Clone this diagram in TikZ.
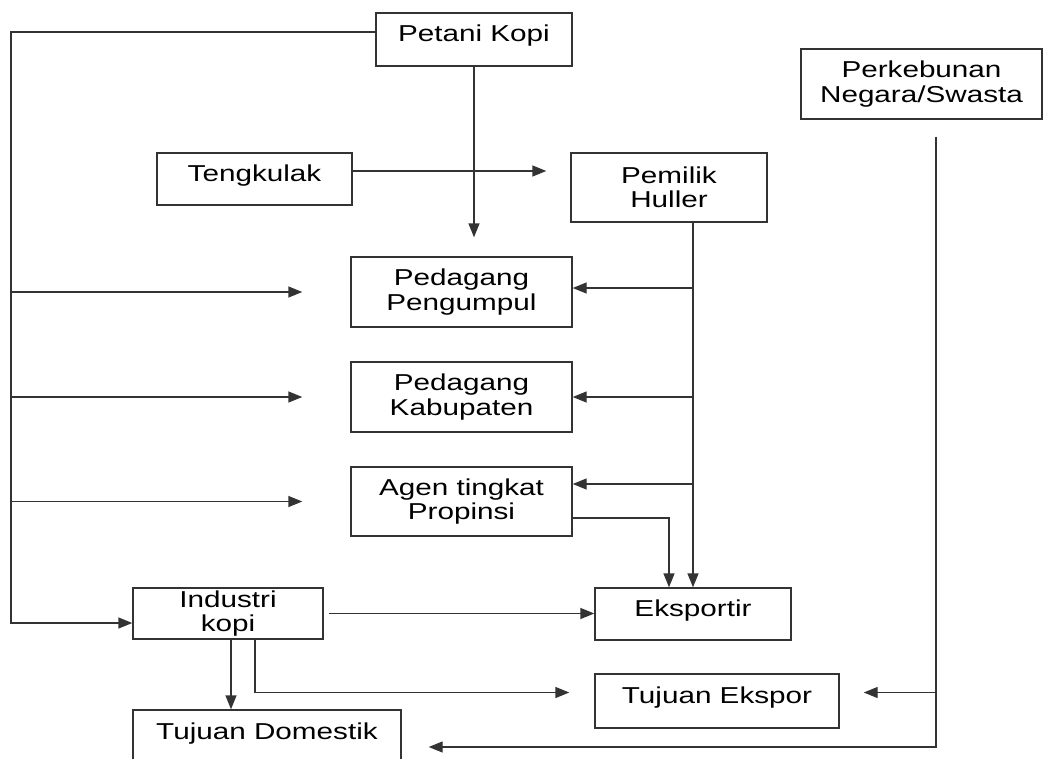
\documentclass[tikz,border=0pt]{standalone}
\usepackage{fontspec}
\setmainfont{Liberation Sans}[FakeStretch=1.29]
\usetikzlibrary{arrows.meta, calc}

\begin{document}
\begin{tikzpicture}[
    x=1pt, y=-1pt,
    ->, >={Triangle[length=14pt, width=11pt]},
    line width=1.4pt, draw=black!80,
    font=\fontsize{23}{24.5}\selectfont,
    box/.style={draw, -, inner sep=0pt, align=center, minimum width=#1},
    oneline/.style={text height=16pt, text depth=12pt}
]
    \clip (0,0) rectangle (1044,758);

    % Top Level
    \node[box=196pt, minimum height=53pt, oneline] (petani) at (474,39.5) {Petani Kopi};
    \node[box=241pt, minimum height=70pt] (perkebunan) at (921.5,84) {Perkebunan\\Negara/Swasta};

    % Second Level
    \node[box=195pt, minimum height=52pt, oneline] (tengkulak) at (254.5,179) {Tengkulak};
    \node[box=196pt, minimum height=69pt] (huller) at (669,187.5) {Pemilik\\Huller};

    % Traders
    \node[box=221pt, minimum height=70pt] (pengumpul) at (461.5,292) {Pedagang\\Pengumpul};
    \node[box=221pt, minimum height=70pt] (kabupaten) at (461.5,397) {Pedagang\\Kabupaten};
    \node[box=221pt, minimum height=69pt] (agen) at (461.5,501.5) {Agen tingkat\\Propinsi};

    % Bottom Level
    \node[box=190pt, minimum height=51pt] (industri) at (228,613.5) {Industri\\kopi};
    \node[box=196pt, minimum height=52pt, oneline] (eksportir) at (693,614) {Eksportir};
    \node[box=244pt, minimum height=54pt, oneline] (ekspor) at (717,701) {Tujuan Ekspor};
    \node[box=268pt, minimum height=74pt, oneline] (domestik) at (267,747) {\raisebox{10pt}{Tujuan Domestik}};

    % Petani Kopi -> left trunk
    \coordinate (trunk) at (11,32);
    \coordinate (indin) at ($(industri.west)+(0,9.5)$);
    \draw ($(petani.west)+(0,-7.5)$) -- (trunk) -- (trunk |- indin) -- (indin);
    \foreach \n in {pengumpul, kabupaten, agen}
        \draw (trunk |- \n.west) -- ($(\n.west)+(-48,0)$);

    % Petani Kopi -> Pedagang Pengumpul
    \draw (petani.south) -- ($(petani.south |- pengumpul.north)+(0,-19)$);

    % Tengkulak -> Pemilik Huller
    \draw ($(tengkulak.east)+(0,-8)$) -- ($(huller.west |- tengkulak.east)+(-24,-8)$);

    % Pemilik Huller -> traders, Eksportir
    \coordinate (hul) at ($(huller.south)+(24,0)$);
    \draw (hul) -- (hul |- eksportir.north);
    \draw ($(hul |- pengumpul.east)+(0,-4)$) -- ($(pengumpul.east)+(0,-4)$);
    \draw (hul |- kabupaten.east) -- (kabupaten.east);
    \draw ($(hul |- agen.east)+(0,-17.5)$) -- ($(agen.east)+(0,-17.5)$);

    % Agen -> Eksportir
    \draw ($(agen.east)+(0,16.5)$) -| ($(eksportir.north)+(-24,0)$);

    % Industri kopi -> Eksportir, Tujuan
    \draw ($(industri.east)+(5,0)$) -- (industri.east -| eksportir.west);
    \coordinate (indA) at ($(industri.south)+(3,0)$);
    \draw (indA) -- (indA |- domestik.north);
    \coordinate (indB) at ($(industri.south)+(27,0)$);
    \draw (indB) |- ($(ekspor.west)+(-25,-8.5)$);

    % Perkebunan -> Tujuan
    \coordinate (kebun) at ($(perkebunan.south)+(14.5,17)$);
    \draw (kebun) |- ($(domestik.east)+(27,0)$);
    \draw ($(kebun |- ekspor.east)+(0,-8.5)$) -- ($(ekspor.east)+(24,-8.5)$);

\end{tikzpicture}
\end{document}
